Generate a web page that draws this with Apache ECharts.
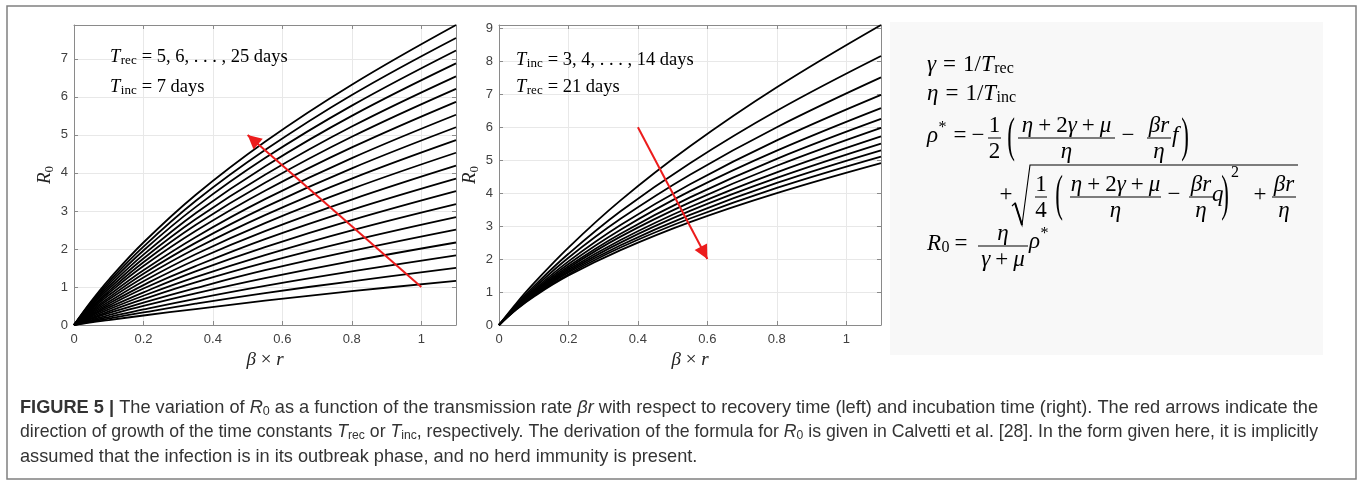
<!DOCTYPE html>
<html>
<head>
<meta charset="utf-8">
<script src="https://cdn.jsdelivr.net/npm/echarts@6/dist/echarts.min.js"></script>
<style>
html, body { margin: 0; padding: 0; background: #fff; }
#main { width: 1362px; height: 484px; }
</style>
</head>
<body>
<div id="main"></div>
<script>
// sample points along beta*r, shared by every curve
var betaR = [0, 0.05, 0.1, 0.2, 0.35, 0.55, 0.8, 1.1];

// left panel: T_inc = 7 days, T_rec = 5..25 days
var recDays = [5, 6, 7, 8, 9, 10, 11, 12, 13, 14, 15, 16, 17, 18, 19, 20, 21, 22, 23, 24, 25];
var recR0 = [
    [0, 0.07, 0.13, 0.25, 0.42, 0.64, 0.89, 1.16],
    [0, 0.09, 0.17, 0.33, 0.56, 0.84, 1.15, 1.50],
    [0, 0.11, 0.21, 0.41, 0.69, 1.03, 1.41, 1.83],
    [0, 0.13, 0.26, 0.50, 0.83, 1.23, 1.68, 2.17],
    [0, 0.16, 0.31, 0.59, 0.97, 1.44, 1.95, 2.51],
    [0, 0.18, 0.36, 0.68, 1.12, 1.64, 2.22, 2.84],
    [0, 0.21, 0.41, 0.77, 1.26, 1.84, 2.49, 3.18],
    [0, 0.24, 0.46, 0.86, 1.41, 2.05, 2.76, 3.52],
    [0, 0.26, 0.51, 0.96, 1.55, 2.26, 3.03, 3.85],
    [0, 0.29, 0.56, 1.05, 1.71, 2.47, 3.30, 4.19],
    [0, 0.32, 0.61, 1.15, 1.86, 2.68, 3.58, 4.53],
    [0, 0.35, 0.67, 1.25, 2.01, 2.89, 3.85, 4.86],
    [0, 0.38, 0.72, 1.35, 2.16, 3.10, 4.12, 5.20],
    [0, 0.41, 0.78, 1.44, 2.31, 3.31, 4.39, 5.53],
    [0, 0.44, 0.84, 1.55, 2.47, 3.53, 4.67, 5.87],
    [0, 0.47, 0.89, 1.65, 2.63, 3.74, 4.95, 6.21],
    [0, 0.50, 0.95, 1.75, 2.78, 3.95, 5.22, 6.54],
    [0, 0.53, 1.01, 1.85, 2.94, 4.17, 5.50, 6.88],
    [0, 0.56, 1.07, 1.96, 3.10, 4.39, 5.77, 7.22],
    [0, 0.60, 1.13, 2.06, 3.26, 4.60, 6.05, 7.55],
    [0, 0.63, 1.19, 2.17, 3.42, 4.82, 6.32, 7.89]
];

// right panel: T_rec = 21 days, T_inc = 3..14 days
var incDays = [3, 4, 5, 6, 7, 8, 9, 10, 11, 12, 13, 14];
var incR0 = [
    [0, 0.66, 1.26, 2.35, 3.78, 5.42, 7.21, 9.10],
    [0, 0.61, 1.17, 2.16, 3.45, 4.91, 6.50, 8.16],
    [0, 0.58, 1.11, 2.04, 3.22, 4.56, 6.00, 7.51],
    [0, 0.56, 1.06, 1.93, 3.03, 4.27, 5.60, 6.98],
    [0, 0.54, 1.02, 1.85, 2.89, 4.06, 5.29, 6.58],
    [0, 0.53, 0.99, 1.78, 2.77, 3.87, 5.04, 6.25],
    [0, 0.52, 0.97, 1.73, 2.68, 3.72, 4.83, 5.98],
    [0, 0.51, 0.94, 1.68, 2.58, 3.58, 4.63, 5.72],
    [0, 0.50, 0.92, 1.63, 2.50, 3.46, 4.46, 5.50],
    [0, 0.49, 0.90, 1.59, 2.42, 3.34, 4.31, 5.30],
    [0, 0.48, 0.88, 1.54, 2.35, 3.23, 4.16, 5.11],
    [0, 0.47, 0.86, 1.50, 2.27, 3.12, 4.00, 4.91]
];

// red arrows (start, tip) in data coordinates
var recArrow = [[1.0, 1.0], [0.5, 5.0]];
var incArrow = [[0.4, 6.0], [0.6, 2.0]];

var xMax = 1.1;
var xStep = 0.2;
var yStep = 1;

function lastMax(rows) {
    var m = 0;
    for (var i = 0; i < rows.length; i++) m = Math.max(m, rows[i][rows[i].length - 1]);
    return m;
}

var SERIF = '"Liberation Serif", "DejaVu Serif", serif';
var SANS = '"Liberation Sans", Arial, sans-serif';
var AXIS_GRAY = '#8a8a8a';
var RED = '#ec1c1c';

var F = {
    it: 'italic 23px ' + SERIF,
    rm: '23px ' + SERIF,
    sb: '16px ' + SERIF,
    it19: 'italic 18.5px ' + SERIF,
    rm19: '18.5px ' + SERIF,
    sb19: '13px ' + SERIF,
    cap: '18.2px ' + SANS,
    capB: 'bold 18.2px ' + SANS,
    capI: 'italic 18.2px ' + SANS,
    capS: '12.5px ' + SANS
};

var measureCtx = document.createElement('canvas').getContext('2d');
function textWidth(str, font) {
    measureCtx.font = font;
    return measureCtx.measureText(str).width;
}

var graphics = [];

function txt(x, y, str, font, opts) {
    opts = opts || {};
    var el = {
        type: 'text',
        x: x,
        y: y,
        silent: true,
        z: 10,
        style: {
            text: str,
            font: font,
            fill: opts.color || '#000',
            align: opts.align || 'left',
            verticalAlign: 'middle',
            textAlign: opts.align || 'left',
            textVerticalAlign: 'middle'
        }
    };
    if (opts.scaleY) el.scaleY = opts.scaleY;
    if (opts.scaleX) el.scaleX = opts.scaleX;
    graphics.push(el);
}

function rowWidth(parts) {
    var w = 0;
    for (var i = 0; i < parts.length; i++) w += textWidth(parts[i][0], F[parts[i][1]]) + (parts[i][3] || 0);
    return w;
}

// lays text pieces left to right; fitW squeezes the line to a given width
function row(x, y, parts, color, fitW) {
    var k = fitW ? fitW / rowWidth(parts) : 1;
    for (var i = 0; i < parts.length; i++) {
        var p = parts[i];
        txt(x, y + (p[2] || 0), p[0], F[p[1]], {color: color, scaleX: k !== 1 ? k : null});
        x += (textWidth(p[0], F[p[1]]) + (p[3] || 0)) * k;
    }
    return x;
}

function seg(x1, y1, x2, y2, width) {
    graphics.push({
        type: 'line', silent: true, z: 10,
        shape: {x1: x1, y1: y1, x2: x2, y2: y2},
        style: {stroke: '#000', lineWidth: width || 1}
    });
}

// fraction with bar from x1 to x2 on the math axis
function frac(x1, x2, axisY, num, den) {
    seg(x1, axisY, x2, axisY, 1);
    var c = (x1 + x2) / 2;
    row(c - rowWidth(num) / 2, axisY - 12.5, num);
    row(c - rowWidth(den) / 2, axisY + 14, den);
}

function sym(cx, cy, ch, font, scale) {
    txt(cx, cy, ch, font, {align: 'center', scaleY: scale});
}

// outer frame and formula panel
graphics.push({
    type: 'rect', silent: true, z: 0,
    shape: {x: 7, y: 6, width: 1349, height: 473},
    style: {fill: 'none', stroke: '#808080', lineWidth: 1.5}
});
graphics.push({
    type: 'rect', silent: true, z: 1,
    shape: {x: 890, y: 22, width: 433, height: 333},
    style: {fill: '#f8f8f8'}
});

// annotations inside the two panels
row(110, 57, [['T', 'it19', 0, 0.5], ['rec', 'sb19', 4, 5], ['= 5, 6, . . . , 25 days', 'rm19']]);
row(110, 87, [['T', 'it19', 0, 0.5], ['inc', 'sb19', 4, 5], ['= 7 days', 'rm19']]);
row(516, 60, [['T', 'it19', 0, 0.5], ['inc', 'sb19', 4, 5], ['= 3, 4, . . . , 14 days', 'rm19']]);
row(516, 87, [['T', 'it19', 0, 0.5], ['rec', 'sb19', 4, 5], ['= 21 days', 'rm19']]);

// formulas
var numA = [['η', 'it', 0, 5], ['+', 'rm', 0, 5], ['2', 'rm'], ['γ', 'it', 0, 5], ['+', 'rm', 0, 5], ['μ', 'it']];
var denEta = [['η', 'it']];
var numBr = [['βr', 'it']];

row(927, 65, [['γ', 'it', 0, 7], ['=', 'rm', 0, 7], ['1/', 'rm'], ['T', 'it', 0, 0.5], ['rec', 'sb', 4]]);
row(927, 94, [['η', 'it', 0, 7], ['=', 'rm', 0, 7], ['1/', 'rm'], ['T', 'it', 0, 0.5], ['inc', 'sb', 4]]);

var a1 = 138;
row(927, a1 - 2, [['ρ', 'it', 0, 0.5], ['*', 'sb', -8]]);
sym(960, a1 - 2, '=', F.rm);
sym(978, a1 - 2, '−', F.rm);
frac(988, 1001, a1, [['1', 'rm']], [['2', 'rm']]);
sym(1011, a1, '(', F.rm, 2.1);
frac(1018, 1115, a1, numA, denEta);
sym(1128, a1 - 2, '−', F.rm);
frac(1147, 1171, a1, numBr, denEta);
txt(1172, a1 - 2, 'f', F.it);
sym(1185, a1, ')', F.rm, 2.1);

var a2 = 197;
sym(1006, a2 - 2, '+', F.rm);
graphics.push({
    type: 'polyline', silent: true, z: 10,
    shape: {points: [[1012, 206], [1015, 203], [1022, 225], [1030, 165], [1298, 165]]},
    style: {stroke: '#000', fill: 'none', lineWidth: 1.1}
});
seg(1015, 203, 1022, 225, 2);
frac(1035, 1047, a2, [['1', 'rm']], [['4', 'rm']]);
sym(1059, a2, '(', F.rm, 2.2);
frac(1070, 1161, a2, numA, denEta);
sym(1174, a2 - 2, '−', F.rm);
frac(1189, 1213, a2, numBr, denEta);
txt(1212, a2 - 2, 'q', F.it);
sym(1225, a2, ')', F.rm, 2.2);
txt(1231, 173, '2', F.sb);
sym(1260, a2 - 2, '+', F.rm);
frac(1272, 1296, a2, numBr, denEta);

var a3 = 246;
row(927, a3 - 2, [['R', 'it', 0, 0.5], ['0', 'sb', 4]]);
sym(961, a3 - 2, '=', F.rm);
frac(978, 1028, a3, [['η', 'it']], [['γ', 'it', 0, 5], ['+', 'rm', 0, 5], ['μ', 'it']]);
row(1029, a3 - 4, [['ρ', 'it', 0, 0.5], ['*', 'sb', -8]]);

// caption (first two lines set to the full text width, as in the figure)
var CAP = '#333';
var CAP_W = 1298;
row(20, 407.5, [
    ['FIGURE 5 | ', 'capB'], ['The variation of ', 'cap'], ['R', 'capI'], ['0', 'capS', 4],
    [' as a function of the transmission rate ', 'cap'], ['βr', 'capI'],
    [' with respect to recovery time (left) and incubation time (right). The red arrows indicate the', 'cap']
], CAP, CAP_W);
row(20, 432, [
    ['direction of growth of the time constants ', 'cap'], ['T', 'capI'], ['rec', 'capS', 4],
    [' or ', 'cap'], ['T', 'capI'], ['inc', 'capS', 4],
    [', respectively. The derivation of the formula for ', 'cap'], ['R', 'capI'], ['0', 'capS', 4],
    [' is given in Calvetti et al. [28]. In the form given here, it is implicitly', 'cap']
], CAP, CAP_W);
row(20, 456.5, [
    ['assumed that the infection is in its outbreak phase, and no herd immunity is present.', 'cap']
], CAP);

function makeXAxis(gridIndex, position) {
    var main = position === 'bottom';
    return {
        type: 'value', gridIndex: gridIndex, position: position,
        min: 0, max: xMax, interval: xStep,
        name: main ? '{i|β} × {i|r}' : '',
        nameLocation: 'middle', nameGap: 22,
        nameTextStyle: {
            fontFamily: SERIF, fontSize: 19, color: '#222',
            rich: {i: {fontFamily: SERIF, fontSize: 19, fontStyle: 'italic', color: '#222'}}
        },
        axisLine: {show: true, onZero: false, lineStyle: {color: AXIS_GRAY, width: 1}},
        axisTick: {show: true, inside: true, length: 4, lineStyle: {color: AXIS_GRAY}},
        axisLabel: {show: main, showMaxLabel: false, margin: 8, color: '#404040', fontFamily: SANS, fontSize: 13},
        splitLine: {show: main, lineStyle: {color: '#e8e8e8', width: 1}}
    };
}

function makeYAxis(gridIndex, position, max) {
    var main = position === 'left';
    return {
        type: 'value', gridIndex: gridIndex, position: position,
        min: 0, max: max, interval: yStep,
        name: main ? '{a|R}{b|0}' : '',
        nameLocation: 'middle', nameGap: 18, nameRotate: 90,
        nameTextStyle: {
            fontFamily: SERIF, fontSize: 19, color: '#222',
            rich: {
                a: {fontFamily: SERIF, fontSize: 19, fontStyle: 'italic', color: '#222', lineHeight: 22},
                b: {fontFamily: SERIF, fontSize: 13, color: '#222', lineHeight: 14, verticalAlign: 'bottom'}
            }
        },
        axisLine: {show: true, onZero: false, lineStyle: {color: AXIS_GRAY, width: 1}},
        axisTick: {show: true, inside: true, length: 4, lineStyle: {color: AXIS_GRAY}},
        axisLabel: {show: main, showMaxLabel: false, margin: 6, color: '#404040', fontFamily: SANS, fontSize: 13},
        splitLine: {show: main, lineStyle: {color: '#e8e8e8', width: 1}}
    };
}

function curve(vals, axisIndex, name) {
    var data = [];
    for (var i = 0; i < betaR.length; i++) data.push([betaR[i], vals[i]]);
    return {
        type: 'line', name: name, xAxisIndex: axisIndex, yAxisIndex: axisIndex,
        data: data, symbol: 'none', showSymbol: false,
        smooth: 0.4,
        lineStyle: {color: '#000', width: 1.8},
        silent: true, z: 3
    };
}

// arrow drawn as a mark line between two data points, head at the tip
function arrow(pts, axisIndex) {
    return {
        type: 'line', xAxisIndex: axisIndex, yAxisIndex: axisIndex,
        data: [], silent: true, z: 5,
        markLine: {
            silent: true, animation: false,
            symbol: ['none', 'triangle'], symbolSize: 14,
            symbolOffset: [[0, 0], [0, 7]],
            label: {show: false},
            lineStyle: {color: RED, width: 2, type: 'solid'},
            emphasis: {disabled: true},
            data: [[{coord: pts[0]}, {coord: pts[1]}]]
        }
    };
}

var series = [];
for (var i = 0; i < recR0.length; i++) series.push(curve(recR0[i], 0, 'T_rec = ' + recDays[i]));
for (var j = 0; j < incR0.length; j++) series.push(curve(incR0[j], 2, 'T_inc = ' + incDays[j]));
series.push(arrow(recArrow, 0));
series.push(arrow(incArrow, 2));

var chart = echarts.init(document.getElementById('main'), null, {renderer: 'canvas'});
chart.setOption({
    animation: false,
    backgroundColor: '#fff',
    grid: [
        {left: 74, top: 25, width: 382, height: 300, outerBoundsMode: 'none'},
        {left: 499, top: 25, width: 382, height: 300, outerBoundsMode: 'none'}
    ],
    xAxis: [
        makeXAxis(0, 'bottom'), makeXAxis(0, 'top'),
        makeXAxis(1, 'bottom'), makeXAxis(1, 'top')
    ],
    yAxis: [
        makeYAxis(0, 'left', lastMax(recR0)), makeYAxis(0, 'right', lastMax(recR0)),
        makeYAxis(1, 'left', lastMax(incR0)), makeYAxis(1, 'right', lastMax(incR0))
    ],
    series: series,
    graphic: {elements: graphics}
});
</script>
</body>
</html>
